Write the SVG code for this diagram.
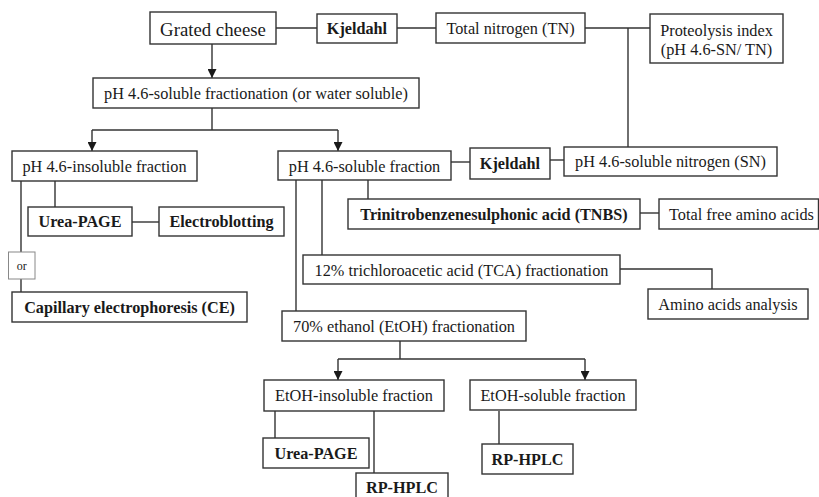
<svg xmlns="http://www.w3.org/2000/svg" width="819" height="497" viewBox="0 0 819 497" font-family="Liberation Serif, DejaVu Serif, serif">
<defs>
<style>
rect.b{fill:#fff;stroke:#333;stroke-width:1.4}
text{font-family:'Liberation Serif','DejaVu Serif',serif;font-size:16.3px;fill:#1a1a1a;text-anchor:middle}
text.bd{font-weight:bold;font-size:16.2px}
.c line,.c polyline{stroke:#333;stroke-width:1.4;fill:none}
</style>
<marker id="ah" viewBox="0 0 10 10" refX="10" refY="5" markerWidth="9" markerHeight="9" markerUnits="userSpaceOnUse" orient="auto">
<path d="M0,0 L10,5 L0,10 z" fill="#1a1a1a"/>
</marker>
</defs>
<rect width="819" height="497" fill="#fff"/>
<g class="c" id="connectors">
<line x1="276" y1="28" x2="317" y2="28"/>
<line x1="397" y1="28" x2="436" y2="28"/>
<line x1="585" y1="28" x2="650" y2="28"/>
<line x1="628" y1="28" x2="628" y2="147"/>
<line x1="212" y1="44" x2="212" y2="78" marker-end="url(#ah)"/>
<line x1="212" y1="108" x2="212" y2="130"/>
<line x1="92" y1="130" x2="338" y2="130"/>
<line x1="92" y1="130" x2="92" y2="151" marker-end="url(#ah)"/>
<line x1="338" y1="130" x2="338" y2="151" marker-end="url(#ah)"/>
<line x1="21" y1="181" x2="21" y2="252"/>
<line x1="21" y1="279" x2="21" y2="292"/>
<line x1="55" y1="181" x2="55" y2="207"/>
<line x1="132" y1="222" x2="159" y2="222"/>
<line x1="451" y1="162" x2="470" y2="162"/>
<line x1="550" y1="160" x2="564" y2="160"/>
<line x1="296" y1="180" x2="296" y2="311"/>
<line x1="322" y1="180" x2="322" y2="255"/>
<line x1="368" y1="180" x2="368" y2="199"/>
<line x1="640" y1="213" x2="659" y2="213"/>
<polyline points="620,269 712,269 712,289"/>
<line x1="400" y1="341" x2="400" y2="359"/>
<line x1="338" y1="359" x2="585" y2="359"/>
<line x1="338" y1="359" x2="338" y2="380" marker-end="url(#ah)"/>
<line x1="585" y1="359" x2="585" y2="380" marker-end="url(#ah)"/>
<line x1="275" y1="411" x2="275" y2="438"/>
<line x1="374" y1="411" x2="374" y2="473"/>
<line x1="499" y1="411" x2="499" y2="444"/>
</g>
<g id="grated"><rect class="b" x="150" y="12" width="126" height="32"/><text x="213" y="36" style="font-size:18.8px">Grated cheese</text></g>
<g id="kjeldahl1"><rect class="b" x="317" y="14" width="80" height="29"/><text class="bd" x="357" y="34">Kjeldahl</text></g>
<g id="tn"><rect class="b" x="436" y="13" width="149" height="30"/><text x="510.5" y="34">Total nitrogen (TN)</text></g>
<g id="proteolysis"><rect class="b" x="650" y="14" width="133" height="49"/><text x="716.5" y="35.5">Proteolysis index</text><text x="716.5" y="54.5">(pH 4.6-SN/ TN)</text></g>
<g id="frac"><rect class="b" x="93" y="78" width="326" height="30"/><text x="256" y="99">pH 4.6-soluble fractionation (or water soluble)</text></g>
<g id="insol"><rect class="b" x="12" y="151" width="185" height="30"/><text x="104.5" y="172">pH 4.6-insoluble fraction</text></g>
<g id="urea1"><rect class="b" x="28" y="207" width="104" height="29"/><text class="bd" x="80" y="227">Urea-PAGE</text></g>
<g id="electro"><rect class="b" x="159" y="207" width="125" height="29"/><text class="bd" x="221.5" y="227">Electroblotting</text></g>
<g id="or"><rect x="8.5" y="252" width="26.5" height="27" fill="#fff" stroke="#888" stroke-width="1"/><text x="21.7" y="270" style="font-size:12px">or</text></g>
<g id="ce"><rect class="b" x="12" y="292" width="235" height="30"/><text class="bd" x="129.5" y="313">Capillary electrophoresis (CE)</text></g>
<g id="sol"><rect class="b" x="278" y="151" width="173" height="29"/><text x="364.5" y="172">pH 4.6-soluble fraction</text></g>
<g id="kjeldahl2"><rect class="b" x="470" y="148" width="80" height="31"/><text class="bd" x="510" y="169">Kjeldahl</text></g>
<g id="sn"><rect class="b" x="564" y="147" width="213" height="29"/><text x="670.5" y="167">pH 4.6-soluble nitrogen (SN)</text></g>
<g id="tnbs"><rect class="b" x="348" y="199" width="292" height="30"/><text class="bd" x="494" y="220">Trinitrobenzenesulphonic acid (TNBS)</text></g>
<g id="tfaa"><rect class="b" x="659" y="199" width="159.5" height="30"/><text x="741.5" y="220">Total free amino acids</text></g>
<g id="tca"><rect class="b" x="303" y="255" width="317" height="29"/><text x="461.5" y="276">12% trichloroacetic acid (TCA) fractionation</text></g>
<g id="aaa"><rect class="b" x="648" y="289" width="160" height="30"/><text x="728" y="310">Amino acids analysis</text></g>
<g id="etoh"><rect class="b" x="282" y="311" width="244" height="30"/><text x="404" y="332">70% ethanol (EtOH) fractionation</text></g>
<g id="etohinsol"><rect class="b" x="264" y="380" width="180" height="31"/><text x="354" y="401">EtOH-insoluble fraction</text></g>
<g id="etohsol"><rect class="b" x="470" y="380" width="166" height="30"/><text x="553" y="401">EtOH-soluble fraction</text></g>
<g id="urea2"><rect class="b" x="263" y="438" width="106" height="30"/><text class="bd" x="316" y="459">Urea-PAGE</text></g>
<g id="rphplc1"><rect class="b" x="356" y="473" width="92" height="32"/><text class="bd" x="402" y="493">RP-HPLC</text></g>
<g id="rphplc2"><rect class="b" x="482" y="444" width="91" height="30"/><text class="bd" x="527.5" y="465">RP-HPLC</text></g>
</svg>
